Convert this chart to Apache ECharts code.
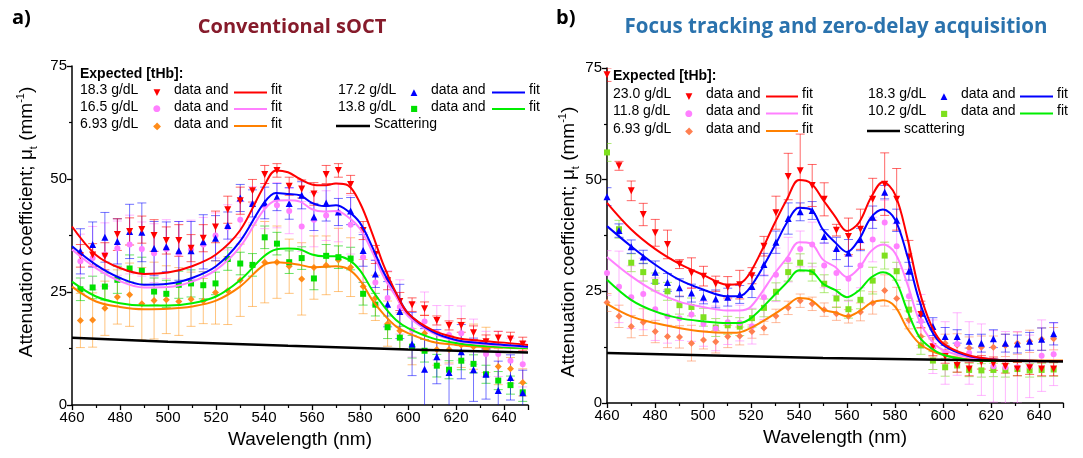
<!DOCTYPE html>
<html><head><meta charset="utf-8">
<script src="https://cdn.jsdelivr.net/npm/echarts@6/dist/echarts.min.js"></script>
<style>html,body{margin:0;padding:0;background:#fff}#c{width:1083px;height:458px}</style>
</head><body><div id="c"></div>
<script>
// ---------- Panel a) Conventional sOCT ----------
const wlA = [463.5,468.6,473.7,478.9,484.0,489.1,494.2,499.3,504.5,509.6,514.7,519.8,524.9,530.1,535.2,540.3,545.4,550.5,555.7,560.8,565.9,571.0,576.1,581.3,586.4,591.5,596.6,601.7,606.9,612.0,617.1,622.2,627.3,632.5,637.6,642.7,647.8];
const redA = [33.0,33.2,32.9,37.7,38.4,38.8,37.5,36.4,36.4,34.7,36.9,39.4,43.2,45.2,47.4,51.0,51.9,48.4,47.8,46.7,51.0,51.9,48.8,38.6,33.3,27.5,22.9,22.2,21.3,18.7,17.6,17.6,16.0,14.0,14.8,14.6,13.5];
const redAErr = [2.5,2.5,3,3.5,3,3,3.5,3,3.5,3,3,3.5,3,3,2.5,2,1.5,2,2,2.5,2,1.5,2,2,2,2,2,1.5,1.5,1,1,1.5,1.5,1.5,1.5,1.5,1.5];
const blueA = [34.0,35.5,37.1,36.2,38.4,38.2,34.6,35.0,34.1,34.1,36.1,36.9,39.7,45.8,44.6,44.7,46.0,44.6,46.4,41.6,44.7,42.7,42.9,34.2,29.0,22.3,20.7,13.5,7.9,10.7,7.2,11.8,7.8,6.8,3.2,6.1,2.7];
const blueAErr = [5,5,5.5,5,6,6.5,6,5.5,6.5,6.5,6,5,3,3,3,3.5,3,3.5,3,3,4,3,3,3.5,3,5,6,7,9,6,8,6,7,5.5,6.5,5,5];
const pinkA = [31.8,32.5,33.3,34.7,35.5,34.5,33.6,34.5,33.6,34.4,35.5,37.5,39.3,41.0,44.3,44.0,44.2,42.9,39.5,41.0,41.9,42.6,39.9,32.7,27.1,23.7,21.7,16.6,18.5,16.0,15.5,15.9,14.0,11.3,11.3,9.8,9.0];
const pinkAErr = [6,7,7,6,6.5,6,6.5,6.5,7,6.5,6,5,5,4,4,5,5,5,5.5,6,5.5,6.5,6.5,5.5,5,6,6,6,6.5,6,6.5,6,5,5,5,5,5];
const greenA = [25.6,26.0,26.2,27.7,30.2,29.7,25.1,24.6,26.6,26.9,26.5,26.9,32.3,31.3,31.0,37.1,35.7,31.6,32.5,28.0,33.0,32.7,32.4,24.6,22.2,17.2,14.9,12.9,12.0,8.7,7.8,9.8,9.1,6.8,5.4,4.4,2.8];
const greenAErr = [2.5,2.5,3,3,3,3,3,3,3,3,3,2.5,2.5,2.5,2.5,2.5,2.5,2.5,2.5,2.5,2.5,2.5,2.5,2.5,2.5,2.5,2.5,2.5,2.5,2.5,2,2,2,2,2,2,2];
const orangeA = [18.7,18.8,21.4,23.9,24.4,22.4,23.1,23.3,22.9,23.4,23.0,24.9,25.3,27.6,30.8,31.6,31.6,30.7,27.9,30.4,30.9,32.1,30.5,26.2,23.7,18.0,16.4,12.9,15.9,12.3,12.3,13.3,12.9,12.2,8.5,8.0,5.0];
const orangeAErr = [6,6,6,6,7,8,8.5,7.5,7.5,6,5,7,7.5,8,9,9,8,6,8,7,6.5,7,6.5,6,5,5,4,4,4,3.5,3,5,5,5,4,2.5,3];

const fitWlA = [460,470,480,490,500,510,520,530,540,545,550,555,560,565,570,575,580,585,590,595,600,610,620,630,640,650];
const fitRedA = [39.5,33.2,30.3,29.0,29.3,30.7,33.3,38.6,48.4,51.9,51.5,50.0,48.8,48.6,49.0,48.6,44.7,38.1,30.7,24.8,20.3,16.6,14.9,14.2,13.8,13.3];
const fitBlueA = [35.1,31.0,28.1,26.6,26.8,28.1,30.7,36.2,44.7,46.9,46.7,46.4,44.7,44.0,44.2,42.9,40.3,35.1,29.2,24.8,20.3,16.3,14.4,13.7,13.3,12.9];
const fitPinkA = [34.4,30.3,27.4,26.0,26.1,27.3,29.9,35.0,43.2,45.2,45.3,45.0,43.3,42.8,42.9,41.6,39.0,34.0,28.2,24.0,19.7,16.0,14.2,13.5,13.1,12.8];
const fitGreenA = [27.3,24.0,22.5,22.0,22.0,22.5,24.0,27.6,32.9,34.4,34.6,34.4,33.3,32.9,32.9,32.2,29.8,25.5,21.8,18.8,17.0,14.8,13.7,13.1,12.8,12.6];
const fitOrangeA = [26.2,22.9,21.7,21.2,21.3,21.8,23.1,26.2,31.0,31.6,31.4,31.0,30.5,30.6,30.7,30.1,27.6,23.3,20.0,17.4,15.9,14.0,13.3,12.9,12.7,12.5];
const scatWlA = [460,500,550,600,650];
const scatA = [14.9,14.0,13.1,12.3,11.6];

// ---------- Panel b) Focus tracking ----------
const wlB = [460.0,465.0,470.1,475.1,480.1,485.2,490.2,495.2,500.2,505.3,510.3,515.3,520.4,525.4,530.4,535.5,540.5,545.5,550.5,555.6,560.6,565.6,570.7,575.7,580.7,585.8,590.8,595.8,600.9,605.9,610.9,616.0,621.0,626.0,631.0,636.1,641.1,646.1];
const redB = [73.5,53.1,47.5,42.2,38.1,35.5,31.1,29.1,28.4,26.7,25.9,26.5,28.5,35.1,42.6,50.7,52.0,48.7,45.6,38.7,37.3,38.9,45.6,49.0,45.6,32.7,19.8,12.6,10.4,8.4,7.6,9.1,8.8,8.2,7.6,7.9,7.6,7.6];
const redBErr = [1.5,1,2.2,2.5,3,3.2,1,3.4,2.2,1.7,2.4,3.2,1.8,2.2,3.7,5.2,8.2,4.7,3.7,1.3,4.1,4.5,4.7,7,6.9,3.7,3,2,1.5,1.5,1.5,1.5,1.5,1.5,1.5,1.5,1.5,1.5];
const blueB = [46.2,38.6,35.0,32.7,29.3,27.0,25.8,24.6,23.7,23.3,23.7,24.3,26.1,31.0,36.0,41.3,42.8,43.1,37.3,34.6,33.6,36.6,41.6,47.2,40.9,29.5,20.1,17.1,14.9,14.9,13.8,13.4,14.4,13.4,13.2,13.8,14.3,15.5];
const blueBErr = [2,1.5,1.5,1.5,2.5,2,2,2,1.5,2,2,2,2.5,2.5,2.5,3.5,2,2,1.5,2.5,3,2.5,2.5,1.5,2.5,2,2,2,2,1.5,1.5,2,2,2,2,2,2.5,2.5];
const pinkB = [29.1,26.0,23.7,24.4,21.0,19.4,19.0,19.8,17.7,16.7,18.1,17.9,17.2,23.7,28.7,32.1,34.5,35.5,30.8,29.1,27.8,30.8,36.6,40.4,35.1,23.9,18.3,12.6,11.2,13.2,11.2,9.7,8.2,8.0,8.0,8.2,10.6,10.9];
const pinkBErr = [5,8,7,8,7,6,5,6,5,5,5,4,4,5,6,5,4,5,5,5,5,5,5,5,5,6,6,6,7,7,7,8,8,8,8,7,8,7];
const greenB = [56.1,38.9,31.4,29.3,27.1,25.0,21.9,21.5,19.2,16.9,17.4,17.1,19.0,21.3,24.9,29.3,31.4,29.3,26.7,23.4,21.0,23.1,27.4,33.0,29.5,20.9,12.9,9.5,8.0,8.4,7.4,7.3,7.4,7.3,7.6,7.3,7.4,7.5];
const greenBErr = [2,2,2,2,2,2,2,2,2,2,2,2,2,2,2,2,2,2,2,2,2,2,3,3,2,2,2,2,2,1.5,1.5,1.5,1.5,1.5,1.5,1.5,1.5,1.5];
const orangeB = [22.5,19.4,17.1,18.1,16.0,14.9,14.8,13.4,14.1,13.7,14.9,15.0,16.0,16.8,19.5,21.3,22.9,22.2,20.9,20.0,19.4,20.4,22.4,25.2,23.4,18.6,14.9,12.3,13.4,13.0,12.3,12.5,12.5,12.9,13.4,13.8,14.3,14.4];
const orangeBErr = [2,2.5,2.5,3,2.5,2.5,2.5,4,2,2.5,2.5,2,1.5,1.5,1.5,1.5,1.5,1.5,1.5,1.5,1.5,2,2.5,3.5,2.5,2,2,2,2,2.5,2.5,2.5,2.5,2.5,2.5,2.5,2.5,2.5];

const fitWlB = [460,470,480,490,500,510,515,520,530,535,540,545,550,555,560,565,570,575,580,585,590,595,600,610,620,630,640,650];
const fitRedB = [44.8,38.9,34.5,31.2,28.7,26.5,26.7,29.5,40.4,45.6,49.9,49.2,45.5,41.8,38.5,40.4,46.0,49.5,46.7,37.3,25.4,17.5,13.4,10.8,9.8,9.5,9.4,9.4];
const fitBlueB = [39.6,35.1,31.0,27.6,25.4,23.9,23.9,26.1,35.3,40.4,43.7,43.3,38.8,36.0,33.8,36.6,41.5,43.3,41.1,33.2,23.1,16.4,13.0,10.6,9.8,9.5,9.4,9.4];
const fitPinkB = [32.7,28.4,25.0,22.7,21.5,20.7,20.7,21.6,29.1,32.5,36.0,35.7,32.1,30.5,28.2,30.2,34.0,35.5,33.6,26.9,18.6,14.1,11.9,10.3,9.6,9.4,9.4,9.4];
const fitGreenB = [27.6,23.1,20.5,19.0,18.3,17.9,17.9,19.0,24.3,27.0,29.7,29.5,26.7,25.3,23.7,25.2,28.1,29.3,27.6,20.9,14.9,12.3,10.8,9.7,9.4,9.4,9.4,9.4];
const fitOrangeB = [22.2,19.4,17.9,16.8,16.0,15.7,15.8,16.8,20.0,21.8,23.5,23.1,20.9,20.3,19.4,20.5,22.4,23.0,21.6,16.8,13.4,11.7,10.8,9.8,9.5,9.5,9.5,9.5];
const scatWlB = [460,500,550,600,650];
const scatB = [11.2,10.7,10.1,9.7,9.3];

const xTicks = [460,480,500,520,540,560,580,600,620,640];
const yTicks = [0,25,50,75];
const legendA = [
  ['18.3 g/dL','red'],['16.5 g/dL','pink'],['6.93 g/dL','orange'],
  ['17.2 g/dL','blue'],['13.8 g/dL','green'],['Scattering','scat']
];
const legendB = [
  ['23.0 g/dL','red'],['11.8 g/dL','pink'],['6.93 g/dL','orange'],
  ['18.3 g/dL','blue'],['10.2 g/dL','green'],['scattering','scat']
];

// ---------- styling ----------
const FONT = 'Liberation Sans, Arial, sans-serif';
const C = {
  red:   {line:'#ff0000', mark:'#ff0000', err:'rgba(255,0,0,0.6)', sym:'triangle', rot:180, size:7},
  blue:  {line:'#0000ff', mark:'#0000ff', err:'rgba(0,0,255,0.55)', sym:'triangle', rot:0, size:7},
  pink:  {line:'#ff80ff', mark:'#ff80ff', err:'rgba(255,110,255,0.5)', sym:'circle', rot:0, size:6},
  green: {line:'#00ee00', mark:'#00e000', err:'rgba(0,210,0,0.6)', sym:'rect', rot:0, size:6},
  orange:{line:'#ff8000', mark:'#ff8c1a', err:'rgba(255,140,0,0.5)', sym:'diamond', rot:0, size:7}
};
const CB = JSON.parse(JSON.stringify(C));
CB.green.mark = '#7ee01e'; CB.green.err = 'rgba(120,220,30,0.6)';
CB.orange.mark = '#ff7f50'; CB.orange.err = 'rgba(255,120,60,0.5)';

function errSeries(g, xs, ys, es, color) {
  return {
    type:'custom', xAxisIndex:g, yAxisIndex:g, clip:true, z:1, silent:true,
    data: xs.map((x,i)=>[x, ys[i]-es[i], ys[i]+es[i]]),
    encode:{x:0, y:[1,2]},
    renderItem:(p, api)=>{
      const lo = api.coord([api.value(0), api.value(1)]);
      const hi = api.coord([api.value(0), api.value(2)]);
      const w = 4.5, st = {stroke:color, lineWidth:1};
      return {type:'group', children:[
        {type:'line', shape:{x1:lo[0],y1:lo[1],x2:hi[0],y2:hi[1]}, style:st},
        {type:'line', shape:{x1:lo[0]-w,y1:lo[1],x2:lo[0]+w,y2:lo[1]}, style:st},
        {type:'line', shape:{x1:hi[0]-w,y1:hi[1],x2:hi[0]+w,y2:hi[1]}, style:st}
      ]};
    }
  };
}
function scatSeries(g, xs, ys, s) {
  return {type:'scatter', xAxisIndex:g, yAxisIndex:g, z:3, symbol:s.sym, symbolRotate:s.rot, symbolSize:s.size,
    itemStyle:{color:s.mark, opacity:1}, data: xs.map((x,i)=>[x, ys[i]]), silent:true};
}
function fitSeries(g, xs, ys, color, w) {
  return {type:'line', xAxisIndex:g, yAxisIndex:g, z:4, smooth:0.35, showSymbol:false, silent:true,
    lineStyle:{color:color, width:w||2}, data: xs.map((x,i)=>[x, ys[i]])};
}

function xAx(g) {
  return {gridIndex:g, type:'value', min:460, max:650, interval:20,
    axisLine:{lineStyle:{color:'#000', width:1.5}},
    axisTick:{length:5, lineStyle:{color:'#000', width:1.3}},
    minorTick:{show:true, splitNumber:2, length:3, lineStyle:{color:'#000', width:1.2}},
    splitLine:{show:false},
    axisLabel:{color:'#000', fontSize:15, fontFamily:FONT, margin:5, showMaxLabel:false,
      formatter:v=> xTicks.includes(v) ? String(v) : ''},
    name:'Wavelength (nm)', nameLocation:'middle', nameGap:25,
    nameTextStyle:{color:'#000', fontSize:19, fontFamily:FONT}};
}
function yAx(g) {
  return {gridIndex:g, type:'value', min:0, max:75, interval:25,
    axisLine:{show:true, lineStyle:{color:'#000', width:1.5}},
    axisTick:{show:true, length:5, lineStyle:{color:'#000', width:1.3}},
    minorTick:{show:true, splitNumber:2, length:3, lineStyle:{color:'#000', width:1.2}},
    splitLine:{show:false},
    axisLabel:{color:'#000', fontSize:15, fontFamily:FONT, margin:5,
      formatter:v=> yTicks.includes(v) ? String(v) : ''}};
}

function yTitle(x, y) {
  return {type:'text', x:x, y:y, rotation:Math.PI/2, silent:true, style:{
    text:'{a|Attenuation coefficient; μ}{s|t}{a| (mm}{p|-1}{a|)}',
    align:'center', verticalAlign:'middle',
    rich:{
      a:{fontSize:19, fontFamily:FONT, fill:'#000', lineHeight:24, verticalAlign:'middle'},
      s:{fontSize:11, fontFamily:FONT, fill:'#000', lineHeight:13, verticalAlign:'bottom'},
      p:{fontSize:11, fontFamily:FONT, fill:'#000', lineHeight:13, verticalAlign:'top'}
    }}};
}

function legendGraphics(items, pal, x0, yHead, rows, cols) {
  const out = [];
  const txt = (x,y,t,bold)=>({type:'text', left:x, top:y-9, silent:true,
    style:{text:t, fill:'#000', font:(bold?'bold ':'')+'14px '+FONT}});
  out.push(txt(x0, yHead, 'Expected [tHb]:', true));
  const glyph = {red:'▼', blue:'▲', pink:'●', green:'■', orange:'◆'};
  const gsize = {red:9, blue:9, pink:9, green:8, orange:10};
  items.forEach((it, i)=>{
    const col = i < 3 ? 0 : 1, row = i % 3;
    const c = cols[col], y = rows[row];
    if (it[1] === 'scat') {
      out.push({type:'line', silent:true, shape:{x1:c.sl1, y1:y, x2:c.sl2, y2:y}, style:{stroke:'#000', lineWidth:2.5}});
      out.push(txt(c.sl2+4, y, it[0]));
      return;
    }
    const s = pal[it[1]];
    out.push(txt(c.lab, y, it[0]));
    out.push({type:'text', silent:true, x:c.mk, y:y, style:{text:glyph[it[1]], fill:s.mark, font:gsize[it[1]]+'px DejaVu Sans', textAlign:'center', textVerticalAlign:'middle'}});
    out.push(txt(c.da, y, 'data and'));
    out.push({type:'line', silent:true, shape:{x1:c.l1, y1:y, x2:c.l2, y2:y}, style:{stroke:s.line, lineWidth:2}});
    out.push(txt(c.l2+4, y, 'fit'));
  });
  return out;
}

const series = [];
function panel(g, wl, sets, pal, fitWl, fits, scWl, sc) {
  sets.forEach(([k, ys, es])=>series.push(errSeries(g, wl, ys, es, pal[k].err)));
  sets.forEach(([k, ys])=>series.push(scatSeries(g, wl, ys, pal[k])));
  fits.forEach(([k, ys])=>series.push(fitSeries(g, fitWl, ys, pal[k].line, 2)));
  series.push(Object.assign(fitSeries(g, scWl, sc, '#000', 2.5), {smooth:false}));
}
panel(0, wlA, [['orange',orangeA,orangeAErr],['green',greenA,greenAErr],['pink',pinkA,pinkAErr],['blue',blueA,blueAErr],['red',redA,redAErr]], C,
  fitWlA, [['orange',fitOrangeA],['green',fitGreenA],['pink',fitPinkA],['blue',fitBlueA],['red',fitRedA]], scatWlA, scatA);
panel(1, wlB, [['orange',orangeB,orangeBErr],['green',greenB,greenBErr],['pink',pinkB,pinkBErr],['blue',blueB,blueBErr],['red',redB,redBErr]], CB,
  fitWlB, [['orange',fitOrangeB],['green',fitGreenB],['pink',fitPinkB],['blue',fitBlueB],['red',fitRedB]], scatWlB, scatB);

const graphics = [
  {type:'text', left:12, top:8, style:{text:'a)', font:'bold 20px Open Sans', fill:'#000'}},
  {type:'text', left:556, top:8, style:{text:'b)', font:'bold 20px Open Sans', fill:'#000'}},
  {type:'text', x:292, y:27, style:{text:'Conventional sOCT', font:'bold 20px Open Sans', fill:'#861b2b', textAlign:'center', textVerticalAlign:'middle'}},
  {type:'text', x:836, y:27, style:{text:'Focus tracking and zero-delay acquisition', font:'bold 20.5px Open Sans', fill:'#2a72ad', textAlign:'center', textVerticalAlign:'middle'}},
  yTitle(27, 222),
  yTitle(569, 242)
].concat(
  legendGraphics(legendA, C, 80, 76, [92.5,109,126], [
    {lab:80, mk:157, da:174, l1:234, l2:267},
    {lab:338, mk:414, da:431, l1:492, l2:525, sl1:336, sl2:370}
  ]),
  legendGraphics(legendB, CB, 613, 78, [96.5,113.5,131], [
    {lab:613, mk:689, da:706, l1:766, l2:798},
    {lab:868, mk:944, da:961, l1:1020, l2:1053, sl1:867, sl2:900}
  ])
);

const chart = echarts.init(document.getElementById('c'), null, {renderer:'canvas'});
chart.setOption({
  animation:false,
  backgroundColor:'#fff',
  grid:[
    {left:72, right:555, top:66, bottom:53, containLabel:false},
    {left:607, right:20, top:68, bottom:55, containLabel:false}
  ],
  xAxis:[xAx(0), xAx(1)],
  yAxis:[yAx(0), yAx(1)],
  series: series,
  graphic: graphics
});
</script></body></html>
